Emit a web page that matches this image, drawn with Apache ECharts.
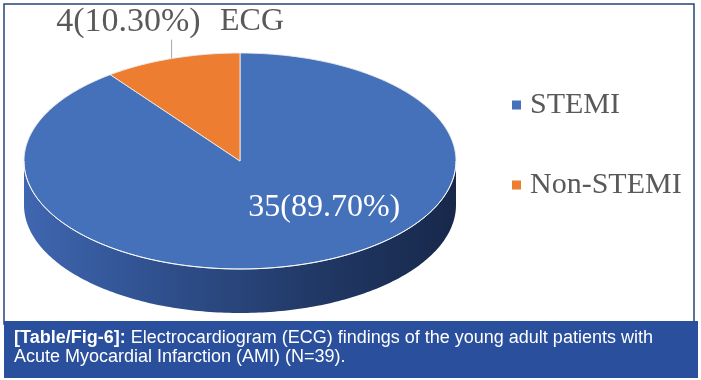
<!DOCTYPE html>
<html>
<head>
<meta charset="utf-8">
<script src="https://cdn.jsdelivr.net/npm/echarts@6/dist/echarts.min.js"></script>
<style>
html,body{margin:0;padding:0;background:#fff;}
#chart{width:701px;height:380px;}
</style>
</head>
<body>
<div id="chart"></div>
<script>
const categories = ['STEMI', 'Non-STEMI'];
const values = [35, 4];
const percentLabels = ['89.70%', '10.30%'];
const colors = ['#4570BA', '#ED7D31'];
const chartTitle = 'ECG';
const captionBold = '[Table/Fig-6]:';
const captionLine1 = ' Electrocardiogram (ECG) findings of the young adult patients with';
const captionLine2 = 'Acute Myocardial Infarction (AMI) (N=39).';

const total = values.reduce((a, b) => a + b, 0);
const chart = echarts.init(document.getElementById('chart'), null, {renderer: 'canvas'});

// layout of the tilted pie
const CX = 240, CY = 161, RX = 216, RY = 108, DEPTH = 44;
const SERIF = '"Liberation Serif", "Times New Roman", serif';
const SANS = '"Liberation Sans", Arial, sans-serif';

function pt(a, dy) {
  return [CX + RX * Math.sin(a), CY - RY * Math.cos(a) + (dy || 0)];
}
function arc(a0, a1, dy) {
  const pts = [];
  const n = Math.max(2, Math.ceil(Math.abs(a1 - a0) / (Math.PI / 180)));
  for (let k = 0; k <= n; k++) pts.push(pt(a0 + (a1 - a0) * k / n, dy));
  return pts;
}

function renderItem(params, api) {
  const i = params.dataIndex;
  let start = 0;
  for (let j = 0; j < i; j++) start += values[j];
  const v = api.value(0);
  const a0 = start / total * Math.PI * 2;
  const a1 = (start + v) / total * Math.PI * 2;
  const children = [];
  // side wall (front half only)
  const s = Math.max(a0, Math.PI / 2), e = Math.min(a1, Math.PI * 3 / 2);
  if (s < e) {
    const topArc = arc(s, e, 0);
    const botArc = arc(e, s, DEPTH);
    const sideColor = i === 0 ? {
      type: 'linear', x: 0, y: 0, x2: 1, y2: 0,
      colorStops: [
        {offset: 0, color: '#3f66b0'},
        {offset: 0.3, color: '#30518f'},
        {offset: 0.65, color: '#223a68'},
        {offset: 1, color: '#17284a'}
      ]
    } : '#b35d22';
    children.push({
      type: 'polygon', z2: 1,
      shape: {points: topArc.concat(botArc)},
      style: {fill: sideColor}
    });
    children.push({
      type: 'polyline', z2: 30,
      shape: {points: topArc},
      style: {stroke: 'rgba(255,255,255,0.85)', lineWidth: 1, fill: null}
    });
  }
  // top face
  children.push({
    type: 'polygon', z2: 10,
    shape: {points: [[CX, CY]].concat(arc(a0, a1, 0))},
    style: {fill: colors[i], stroke: 'rgba(235,235,235,0.9)', lineWidth: 1}
  });
  // labels
  const frac = v / total;
  const txt = v + '(' + percentLabels[i] + ')';
  if (frac >= 0.2) {
    children.push({
      type: 'text', z2: 40,
      x: CX + 0.39 * RX, y: CY + 0.43 * RY,
      style: {text: txt, fill: '#ffffff', font: '32px ' + SERIF, align: 'center', verticalAlign: 'middle'}
    });
  } else {
    const mid = (a0 + a1) / 2;
    const p = pt(mid, 0);
    children.push({
      type: 'line', z2: 40,
      shape: {x1: p[0], y1: p[1], x2: p[0], y2: p[1] - 19},
      style: {stroke: '#a6a6a6', lineWidth: 1}
    });
    children.push({
      type: 'text', z2: 40,
      x: p[0] + 29, y: p[1] - 36,
      style: {text: txt, fill: '#595959', font: '34px ' + SERIF, align: 'right', verticalAlign: 'middle'}
    });
  }
  return {type: 'group', children: children};
}

const option = {
  backgroundColor: '#ffffff',
  animation: false,
  title: {
    text: chartTitle, left: 220, top: 6, padding: 0,
    textStyle: {fontFamily: SERIF, fontSize: 32, fontWeight: 'normal', color: '#595959'}
  },
  legend: {
    orient: 'vertical', left: 512, top: 90, padding: 0,
    itemWidth: 9, itemHeight: 9, itemGap: 50, icon: 'rect',
    data: categories,
    textStyle: {fontFamily: SERIF, fontSize: 30, color: '#595959', lineHeight: 30, padding: [0, 0, 0, 4]}
  },
  graphic: [
    {type: 'rect', shape: {x: 4, y: 4, width: 690, height: 320},
     style: {fill: 'none', stroke: '#25457a', lineWidth: 1.5}, z: 0},
    {type: 'rect', shape: {x: 4, y: 321, width: 694, height: 57},
     style: {fill: '#2a4f9c'}, z: 1},
    {type: 'text', x: 14, y: 329, z: 2,
     style: {
       text: '{b|' + captionBold + '}' + captionLine1 + '\n' + captionLine2,
       fill: '#ffffff', font: '18px ' + SANS, lineHeight: 19,
       rich: {b: {fontWeight: 'bold', fontSize: 18, fontFamily: SANS, fill: '#ffffff', lineHeight: 19}}
     }}
  ],
  series: [
    {
      name: 'ECG', type: 'custom', coordinateSystem: 'none',
      renderItem: renderItem,
      data: values.map((v, i) => ({name: categories[i], value: v})),
      silent: true
    },
    {
      name: 'legendProxy', type: 'pie', radius: [0, 0], center: [CX, CY],
      label: {show: false}, labelLine: {show: false}, silent: true,
      data: values.map((v, i) => ({name: categories[i], value: v, itemStyle: {color: colors[i]}}))
    }
  ]
};
chart.setOption(option);
</script>
</body>
</html>
